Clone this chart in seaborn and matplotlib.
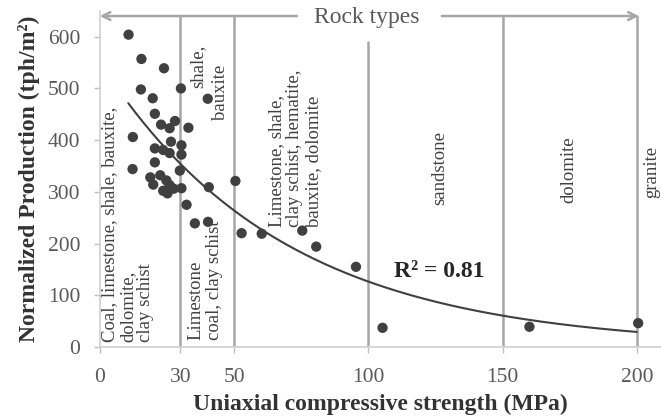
import numpy as np
import pandas as pd
import matplotlib
matplotlib.use("Agg")
import matplotlib.pyplot as plt
import seaborn as sns

# ---- data ----
ucs = [10.7, 15.5, 23.9, 15.3, 19.7, 30.2, 40.2, 20.5, 22.8, 28.0, 26.0, 33.0,
       12.3, 20.5, 26.5, 30.4, 23.6, 26.0, 30.4, 12.2, 20.5, 29.8, 18.8, 22.5,
       24.8, 19.9, 26.0, 30.4, 23.6, 25.2, 27.5, 40.6, 50.5, 32.3, 35.4, 40.3,
       52.8, 60.3, 75.4, 80.6, 95.4, 105.3, 160.0, 200.5]
production = [604, 557, 539, 498, 481, 500, 480, 451, 430, 437, 423, 424,
              406, 384, 397, 390, 381, 375, 372, 344, 357, 341, 328, 332,
              322, 314, 313, 307, 302, 297, 306, 309, 321, 275, 239, 242,
              220, 219, 225, 194, 155, 37, 39, 46]

# exponential trendline y = a * exp(-b x)
trend_a = 551.0
trend_b = 0.01472
trend_range = [10.6, 200.0]
r2_label = "R\u00b2 = 0.81"

x_ticks = [0, 30, 50, 100, 150, 200]
y_ticks = [0, 100, 200, 300, 400, 500, 600]
boundaries = [30, 50, 100, 150, 200]

zone_lines = [
    ("Coal, limestone, shale, bauxite,", 3.6, 10, "bottom"),
    ("dolomite,", 10.4, 10, "bottom"),
    ("clay schist", 17.2, 10, "bottom"),
    ("Limestone", 35.9, 13, "bottom"),
    ("coal, clay schist", 42.8, 13, "bottom"),
    ("shale,", 36.6, 543, "center"),
    ("bauxite", 45.0, 493, "center"),
    ("Limestone, shale,", 65.7, 232, "bottom"),
    ("clay schist, hematite,", 72.6, 232, "bottom"),
    ("bauxite, dolomite", 79.5, 232, "bottom"),
    ("sandstone", 126.6, 346, "center"),
    ("dolomite", 174.7, 342, "center"),
    ("granite", 205.6, 338, "center"),
]

df = pd.DataFrame({"ucs": ucs, "prod": production})
tx = np.linspace(trend_range[0], trend_range[1], 200)
trend = pd.DataFrame({"x": tx, "y": trend_a * np.exp(-trend_b * tx)})

sns.set_theme(style="white")
plt.rcParams["font.family"] = ["Liberation Serif", "DejaVu Serif"]

fig = plt.figure(figsize=(6.61, 4.18), dpi=100)
ax = fig.add_axes([0.151, 0.170, 0.849, 0.804])

grey_line = "#a6a6a6"
dark = "#404040"

# boundaries
for b in boundaries:
    top = 590 if b == 100 else 640
    ax.plot([b, b], [0, top], color=grey_line, lw=1.8, zorder=1)

sns.lineplot(data=trend, x="x", y="y", color=dark, lw=1.5, ax=ax, zorder=3)
sns.scatterplot(data=df, x="ucs", y="prod", color=dark, s=55, edgecolor="none",
                ax=ax, zorder=4)

# rock types arrows
ax.annotate("", xy=(0, 640), xytext=(73.4, 640),
            arrowprops=dict(arrowstyle="->", color=grey_line, lw=1.8,
                            shrinkA=0, shrinkB=0, mutation_scale=14),
            annotation_clip=False)
ax.annotate("", xy=(200.7, 640), xytext=(127.4, 640),
            arrowprops=dict(arrowstyle="->", color=grey_line, lw=1.8,
                            shrinkA=0, shrinkB=0, mutation_scale=14),
            annotation_clip=False)
ax.text(99.4, 638, "Rock types", ha="center", va="center", fontsize=17,
        color="#595959")

for txt, x, y, va in zone_lines:
    ax.text(x, y, txt, rotation=90, ha="center", va=va, fontsize=13.5,
            color="#404040")

ax.text(126.6, 145, r2_label, ha="center", va="center", fontsize=17,
        fontweight="bold", color="#262626")

ax.set_xlim(0, 209)
ax.set_ylim(0, 650)
ax.set_xticks(x_ticks)
ax.set_yticks(y_ticks)
ax.tick_params(axis="both", labelsize=15.5, labelcolor="#595959", color="#bfbfbf",
               length=4, width=1, direction="out")
ax.tick_params(axis="x", pad=11)
ax.tick_params(axis="y", pad=10)
ax.tick_params(left=True, bottom=True)
for s in ["top", "right"]:
    ax.spines[s].set_visible(False)
for s in ["left", "bottom"]:
    ax.spines[s].set_color("#d0d0d0")
    ax.spines[s].set_linewidth(1.2)

ax.set_xlabel("Uniaxial compressive strength (MPa)", fontsize=17,
              fontweight="bold", color="#333333", labelpad=5)
ax.set_ylabel("Normalized Production (tph/m\u00b2)", fontsize=17,
              fontweight="bold", color="#333333", labelpad=6)

fig.savefig("out.png", dpi=100)
